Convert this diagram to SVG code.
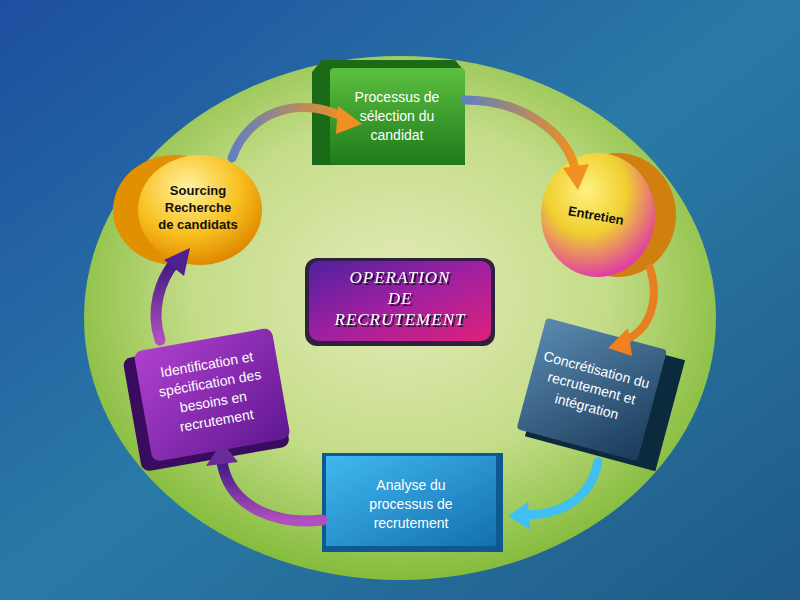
<svg xmlns="http://www.w3.org/2000/svg" width="800" height="600" viewBox="0 0 800 600">
<defs>
<linearGradient id="bg" x1="0" y1="0" x2="1" y2="1"><stop offset="0" stop-color="#1d4fa0"/><stop offset="0.5" stop-color="#2a7aa6"/><stop offset="1" stop-color="#1f5a88"/></linearGradient>
<radialGradient id="ell" cx="0.5" cy="0.45" r="0.55"><stop offset="0" stop-color="#e4ecb8"/><stop offset="0.6" stop-color="#c4dc88"/><stop offset="1" stop-color="#84bc3c"/></radialGradient>
<linearGradient id="green" x1="0" y1="0" x2="0" y2="1"><stop offset="0" stop-color="#5cc040"/><stop offset="1" stop-color="#1e7a1a"/></linearGradient>
<radialGradient id="orange" cx="0.4" cy="0.3" r="0.7"><stop offset="0" stop-color="#fff2a0"/><stop offset="0.6" stop-color="#f8c020"/><stop offset="1" stop-color="#e08a00"/></radialGradient>
<radialGradient id="orange2" cx="0.4" cy="0.3" r="0.7"><stop offset="0" stop-color="#fff080"/><stop offset="0.5" stop-color="#f0d030"/><stop offset="1" stop-color="#e040a0"/></radialGradient>
<linearGradient id="teal" x1="0" y1="0" x2="1" y2="1"><stop offset="0" stop-color="#5a8ab0"/><stop offset="1" stop-color="#1a3a5a"/></linearGradient>
<linearGradient id="blue" x1="0" y1="0" x2="1" y2="1"><stop offset="0" stop-color="#40b8f0"/><stop offset="1" stop-color="#1470b0"/></linearGradient>
<linearGradient id="purple" x1="0" y1="0" x2="1" y2="1"><stop offset="0" stop-color="#b040d0"/><stop offset="1" stop-color="#601890"/></linearGradient>
<linearGradient id="mag" x1="0" y1="0" x2="1" y2="1"><stop offset="0" stop-color="#5020a0"/><stop offset="0.5" stop-color="#a020a0"/><stop offset="1" stop-color="#e0207a"/></linearGradient>
<linearGradient id="arO" x1="0" y1="0" x2="1" y2="0"><stop offset="0" stop-color="#6080c0"/><stop offset="1" stop-color="#f09020"/></linearGradient>
<linearGradient id="arP" x1="0" y1="1" x2="0" y2="0"><stop offset="0" stop-color="#b050c0"/><stop offset="1" stop-color="#401880"/></linearGradient>
<filter id="ts" x="-10%" y="-20%" width="120%" height="140%"><feDropShadow dx="2" dy="2" stdDeviation="0.5" flood-color="#201030"/></filter>
<style>
.w{font-family:"Liberation Sans",Arial,sans-serif;font-size:14px;fill:#fff;text-anchor:middle}
.b{font-family:"Liberation Sans",Arial,sans-serif;font-size:13px;font-weight:bold;fill:#111;text-anchor:middle}
.c{font-family:"Liberation Serif",serif;font-style:italic;font-size:17px;text-anchor:middle;letter-spacing:1px;fill:#fff}
</style>
</defs>
<rect width="800" height="600" fill="url(#bg)"/>
<ellipse cx="400" cy="318" rx="316" ry="262" fill="url(#ell)"/>
<g id="n1">
<path d="M312,72 L322,60 L455,60 L465,72 L465,165 L312,165 Z" fill="#1a6a18"/>
<rect x="330" y="68" width="135" height="97" rx="4" fill="url(#green)"/>
<text class="w" x="397" y="102">Processus de</text><text class="w" x="397" y="121">sélection du</text><text class="w" x="397" y="140">candidat</text>
</g>
<g id="n2">
<ellipse cx="618" cy="215" rx="58" ry="62" fill="#d08010"/>
<ellipse cx="598" cy="215" rx="57" ry="62" fill="url(#orange2)"/>
<text class="b" x="596" y="220" transform="rotate(10 596 215)">Entretien</text>
</g>
<g id="n3" transform="rotate(15 595 395)">
<rect x="538" y="338" width="135" height="115" fill="#0c2a3e"/>
<rect x="528" y="333" width="125" height="115" rx="4" fill="url(#teal)"/>
<text class="w" x="590" y="375">Concrétisation du</text><text class="w" x="590" y="394">recrutement et</text><text class="w" x="590" y="413">intégration</text>
</g>
<g id="n4">
<rect x="322" y="453" width="181" height="99" fill="#0e5a90"/>
<rect x="326" y="456" width="170" height="90" fill="url(#blue)"/>
<text class="w" x="411" y="490">Analyse du</text><text class="w" x="411" y="509">processus de</text><text class="w" x="411" y="528">recrutement</text>
</g>
<g id="n5" transform="rotate(-10 205 395)">
<rect x="130" y="345" width="150" height="115" rx="8" fill="#3a0c60"/>
<rect x="142" y="340" width="140" height="112" rx="8" fill="url(#purple)"/>
<text class="w" x="212" y="370">Identification et</text><text class="w" x="212" y="389">spécification des</text><text class="w" x="212" y="408">besoins en</text><text class="w" x="212" y="427">recrutement</text>
</g>
<g id="n6">
<ellipse cx="175" cy="210" rx="62" ry="55" fill="#e09000"/>
<ellipse cx="200" cy="210" rx="62" ry="55" fill="url(#orange)"/>
<text class="b" x="198" y="195">Sourcing</text><text class="b" x="198" y="212">Recherche</text><text class="b" x="198" y="229">de candidats</text>
</g>
<g id="center">
<rect x="305" y="258" width="190" height="88" rx="12" fill="#302040"/>
<rect x="309" y="261" width="182" height="80" rx="10" fill="url(#mag)"/>
<g class="c" filter="url(#ts)"><text x="400" y="283">OPERATION</text><text x="400" y="304">DE</text><text x="400" y="325">RECRUTEMENT</text></g>
</g>
<g id="connectors" fill="none" stroke-linecap="round">
<path d="M232,158 C250,110 300,95 345,118" stroke="url(#arO)" stroke-width="9"/>
<polygon points="338,106 362,124 336,134" fill="#f09020"/>
<path d="M465,100 C520,100 565,130 575,168" stroke="url(#arO)" stroke-width="9"/>
<polygon points="563,168 578,190 589,164" fill="#f09020"/>
<path d="M650,268 C660,300 650,330 625,340" stroke="#e88020" stroke-width="8"/>
<polygon points="628,328 608,348 632,356" fill="#f08020"/>
<path d="M598,462 C590,500 560,515 525,515" stroke="#40c0f0" stroke-width="9"/>
<polygon points="528,502 508,516 530,530" fill="#40c0f0"/>
<path d="M322,520 C280,525 230,510 222,462" stroke="url(#arP)" stroke-width="11"/>
<polygon points="206,466 222,442 238,462" fill="#6a2a9a"/>
<path d="M160,340 C150,310 160,280 175,262" stroke="url(#arP)" stroke-width="11"/>
<polygon points="164,260 190,248 184,276" fill="#502090"/>
</g>
</svg>
